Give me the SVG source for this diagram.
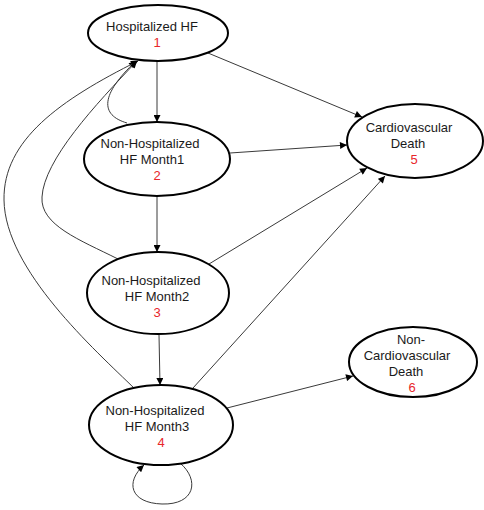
<svg xmlns="http://www.w3.org/2000/svg" width="484" height="510" viewBox="0 0 484 510">
<style>
.n{fill:#fff;stroke:#000;stroke-width:2}
.t{font-family:"Liberation Sans",Arial,sans-serif;font-size:13px;fill:#1a1a1a;text-anchor:middle}
.r{fill:#e8262a}
.e{fill:none;stroke:#3a3a3a;stroke-width:1}
</style>
<defs>
<marker id="a" viewBox="0 0 10 10" refX="10" refY="5" markerWidth="8" markerHeight="7" markerUnits="userSpaceOnUse" orient="auto">
<path d="M0,0L10,5L0,10z" fill="#000"/>
</marker>
</defs>
<rect width="484" height="510" fill="#fff"/>
<g id="edges">
<path class="e" marker-end="url(#a)" d="M157,61L157,122"/>
<path class="e" marker-end="url(#a)" d="M208,53L362,117"/>
<path class="e" marker-end="url(#a)" d="M230,153L347,145"/>
<path class="e" marker-end="url(#a)" d="M209,264L367,168"/>
<path class="e" marker-end="url(#a)" d="M193,388L385,176"/>
<path class="e" marker-end="url(#a)" d="M227,408L353,376"/>
<path class="e" marker-end="url(#a)" d="M157,196L157,252"/>
<path class="e" marker-end="url(#a)" d="M159,335L160,385"/>
<path class="e" marker-end="url(#a)" d="M127,123C100,115 100,95 136,61"/>
<path class="e" marker-end="url(#a)" d="M118,259C80,240 40,225 42,197C44,160 95,105 137,61"/>
<path class="e" marker-end="url(#a)" d="M135,389C95,350 5,270 4,200C3,140 60,100 138,61"/>
<path class="e" marker-end="url(#a)" d="M180,463C200,480 195,505 162,504C130,503 125,482 144,465"/>
</g>
<g id="n1">
<ellipse class="n" cx="158" cy="33" rx="70" ry="28"/>
<text class="t" x="152" y="31">Hospitalized HF</text>
<text class="t r" x="157" y="47">1</text>
</g>
<g id="n2">
<ellipse class="n" cx="157" cy="159" rx="73" ry="37"/>
<text class="t" x="150" y="148">Non-Hospitalized</text>
<text class="t" x="152" y="164">HF Month1</text>
<text class="t r" x="157" y="180">2</text>
</g>
<g id="n3">
<ellipse class="n" cx="158" cy="293" rx="71" ry="41"/>
<text class="t" x="151" y="285">Non-Hospitalized</text>
<text class="t" x="157" y="301">HF Month2</text>
<text class="t r" x="157" y="317">3</text>
</g>
<g id="n4">
<ellipse class="n" cx="161" cy="425" rx="72" ry="40"/>
<text class="t" x="155" y="415">Non-Hospitalized</text>
<text class="t" x="157" y="431">HF Month3</text>
<text class="t r" x="161" y="447">4</text>
</g>
<g id="n5">
<ellipse class="n" cx="415" cy="141" rx="68" ry="37"/>
<text class="t" x="409" y="132">Cardiovascular</text>
<text class="t" x="408" y="148">Death</text>
<text class="t r" x="414" y="164">5</text>
</g>
<g id="n6">
<ellipse class="n" cx="413" cy="362" rx="64" ry="35"/>
<text class="t" x="411" y="344">Non-</text>
<text class="t" x="407" y="360">Cardiovascular</text>
<text class="t" x="406" y="376">Death</text>
<text class="t r" x="412" y="392">6</text>
</g>
</svg>
